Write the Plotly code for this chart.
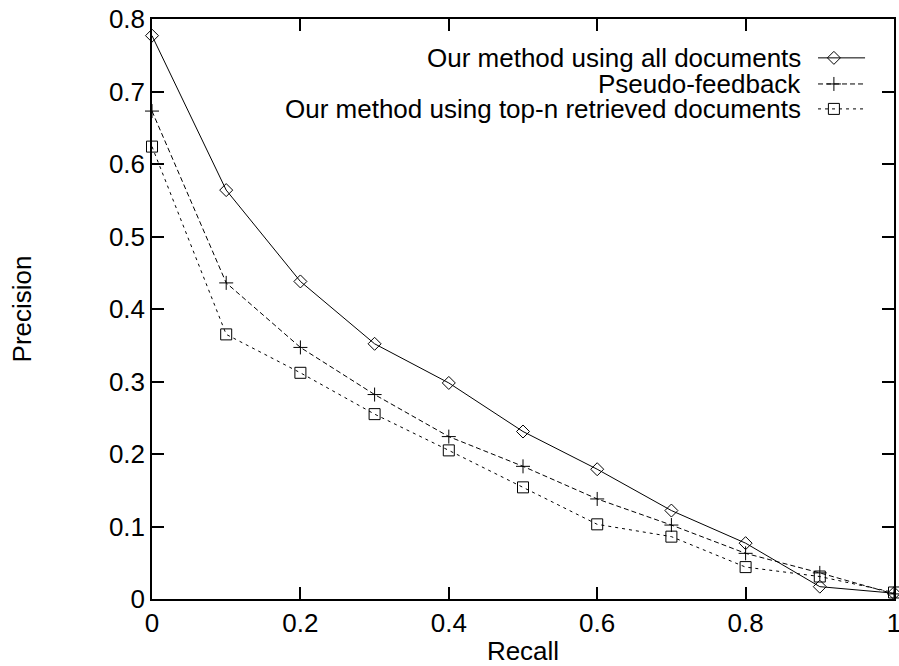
import plotly.graph_objects as go

recall = [0.0, 0.1, 0.2, 0.3, 0.4, 0.5, 0.6, 0.7, 0.8, 0.9, 1.0]
all_docs = [0.777, 0.564, 0.438, 0.352, 0.298, 0.231, 0.179, 0.122, 0.077, 0.017, 0.008]
pseudo_fb = [0.673, 0.436, 0.347, 0.282, 0.224, 0.183, 0.138, 0.102, 0.063, 0.036, 0.007]
top_n = [0.624, 0.365, 0.312, 0.255, 0.205, 0.154, 0.103, 0.086, 0.044, 0.031, 0.009]

names = ["Our method using all documents", "Pseudo-feedback",
         "Our method using top-n retrieved documents"]
series = [all_docs, pseudo_fb, top_n]
symbols = ["diamond-open", "cross-thin-open", "square-open"]
sizes = [10, 10, 11]
dashes = ["solid", "5px,3px", "3px,4px"]

FONT = "Liberation Sans, Arial, sans-serif"
FS = 26
fig = go.Figure()
for name, ys, sym, sz, ds in zip(names, series, symbols, sizes, dashes):
    fig.add_trace(go.Scatter(
        x=recall, y=ys, mode="lines+markers", name=name, showlegend=False,
        line=dict(color="black", width=1, dash=ds),
        marker=dict(symbol=sym, size=sz, color="black", line=dict(color="black", width=1)),
        cliponaxis=False,
    ))

# gnuplot-style key: text right-aligned, sample to the right
key_rows = [0.933, 0.888, 0.845]
for name, ky, sym, sz, ds in zip(names, key_rows, symbols, sizes, dashes):
    fig.add_annotation(x=0.878, y=ky, xref="paper", yref="paper", text=name,
                       showarrow=False, xanchor="right", yanchor="middle",
                       font=dict(family=FONT, size=FS, color="black"))
    fig.add_trace(go.Scatter(
        x=[0.8976, 0.919, 0.961], y=[ky, ky, ky], xaxis="x2", yaxis="y2",
        mode="lines", showlegend=False, hoverinfo="skip",
        line=dict(color="black", width=1, dash=ds), cliponaxis=False))
    fig.add_trace(go.Scatter(
        x=[0.919], y=[ky], xaxis="x2", yaxis="y2", mode="markers",
        showlegend=False, hoverinfo="skip",
        marker=dict(symbol=sym, size=sz, color="black", line=dict(color="black", width=1)),
        cliponaxis=False))

axis_common = dict(showline=True, linecolor="black", linewidth=1.5, mirror="ticks",
                   ticks="inside", ticklen=12, tickwidth=1.5, tickcolor="black",
                   showgrid=False, zeroline=False, ticklabeloverflow="allow",
                   automargin=False,
                   tickfont=dict(family=FONT, size=FS, color="black"))
fig.update_layout(
    width=899, height=666,
    margin=dict(l=152, r=5, t=19, b=67),
    paper_bgcolor="white", plot_bgcolor="white",
    showlegend=False,
    xaxis=dict(range=[0, 1], tickvals=[0, 0.2, 0.4, 0.6, 0.8, 1.0],
               ticktext=["0", "0.2", "0.4", "0.6", "0.8", "1"],
               title=dict(text="Recall", font=dict(family=FONT, size=FS, color="black"), standoff=5),
               **axis_common),
    yaxis=dict(range=[0, 0.8], tickvals=[0, 0.1, 0.2, 0.3, 0.4, 0.5, 0.6, 0.7, 0.8],
               ticktext=["0", "0.1", "0.2", "0.3", "0.4", "0.5", "0.6", "0.7", "0.8"],
               title=dict(text="Precision", font=dict(family=FONT, size=FS, color="black"), standoff=70),
               **axis_common),
    xaxis2=dict(range=[0, 1], overlaying="x", visible=False, fixedrange=True),
    yaxis2=dict(range=[0, 1], overlaying="y", visible=False, fixedrange=True),
)
fig.write_html("out.html", config={"displayModeBar": False},
               post_script="document.body.style.margin='0';document.body.style.overflow='hidden';")
